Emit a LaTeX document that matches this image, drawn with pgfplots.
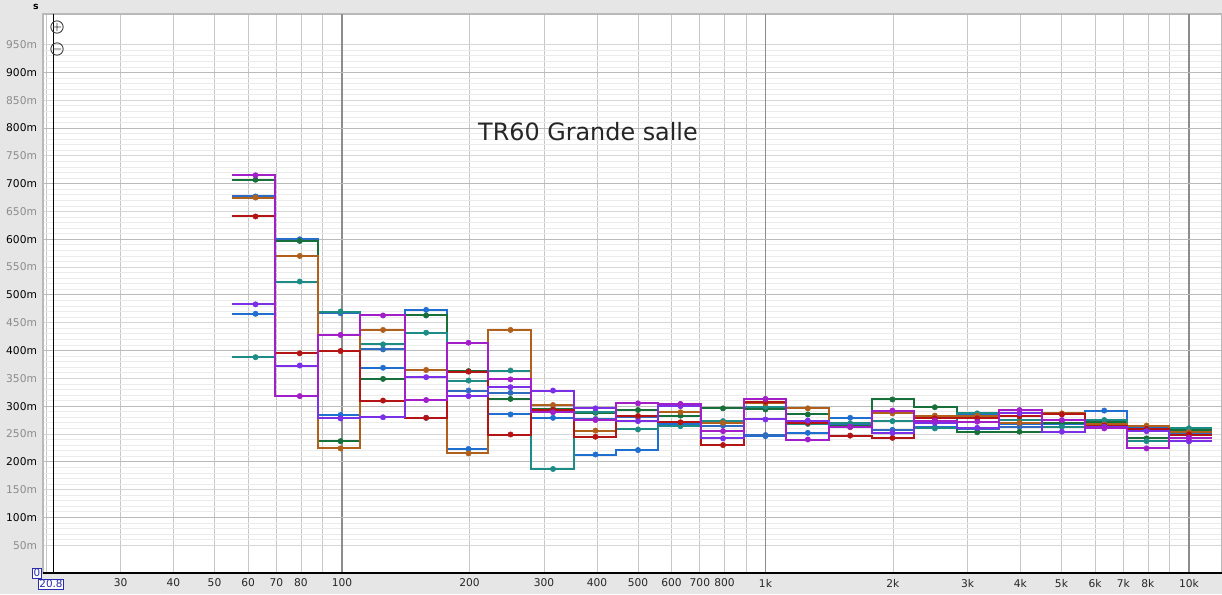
\documentclass[border=0pt]{standalone}
\usepackage{fontspec}
\setmainfont{DejaVu Sans}
\usepackage{pgfplots}
\pgfplotsset{compat=1.18}
\usepackage{pgfplotstable}

\definecolor{bgc}{HTML}{E6E6E6}
\definecolor{labgray}{HTML}{8C8C8C}
\definecolor{cblue}{HTML}{1F6FD0}
\definecolor{cgreen}{HTML}{17703A}
\definecolor{cteal}{HTML}{1D8C86}
\definecolor{cbrown}{HTML}{B0601A}
\definecolor{cred}{HTML}{B41414}
\definecolor{cmag}{HTML}{A21EC8}
\definecolor{cviol}{HTML}{7B2FE6}
\definecolor{cblue2}{HTML}{2F6CC0}
\definecolor{boxblue}{HTML}{2B2BB0}

% lo = lower band edge, fc = band centre, values in ms
\pgfplotstableread{
lo     fc     v1  v2  v3  v4  v5  v6  v7  v8
55.0   62.5   466 707 388 675 641 715 483 677
69.5   79.5   600 597 524 570 395 318 373 598
87.8   99.2   284 237 470 224 399 428 278 467
110.3  125    369 349 411 437 310 463 280 402
140.9  158    473 463 432 365 279 311 352 279
177.0  199    223 363 346 215 362 414 318 328
221.1  250    285 313 364 437 249 348 334 324
279.5  315    279 295 187 302 293 289 328 290
353.0  397    213 288 290 256 245 275 296 277
443.6  500    221 293 258 282 282 305 273 280
557.5  630    268 283 264 289 271 304 300 302
704.3  794    272 296 273 270 230 255 242 265
889.8  1000   246 294 299 305 308 313 276 248
1118   1259   252 285 268 296 270 240 274 272
1412   1585   279 265 269 262 247 263 263 266
1784   1995   257 312 273 287 243 292 252 257
2242   2512   262 298 260 283 278 274 270 274
2833   3162   286 253 287 283 278 272 261 258
3559   3981   267 254 275 270 282 293 287 263
4498   5012   267 270 263 287 285 275 254 270
5681   6310   292 272 275 267 265 260 263 268
7138   7943   262 242 237 265 259 224 255 258
8970   10000  255 257 260 253 249 243 237 250
11330  10000  255 257 260 253 249 243 237 250
}\rt

\newcommand\series[2]{%
  \addplot[#1, line width=1.5pt, const plot mark left, mark=none] table[x=lo,y=#2]{\rt};
  \addplot[#1, only marks, mark=*, mark size=2pt] table[x=fc,y=#2]{\rt};
}

\begin{document}
\begin{tikzpicture}
\fill[bgc] (0pt,0pt) rectangle (916.5pt,445.5pt);
\useasboundingbox (0pt,0pt) rectangle (916.5pt,445.5pt);
\begin{axis}[
  at={(32.25pt,15.75pt)}, anchor=south west,
  scale only axis, width=884.25pt, height=419.25pt,
  xmode=log, xmin=19.68, xmax=11970, ymin=0, ymax=1005,
  clip=false,
  axis background/.style={fill=white},
  axis line style={draw=gray!55, line width=0.8pt},
  major tick length=0pt, minor tick length=0pt,
  tick style={draw=none},
  xtick={20,30,40,50,60,70,80,90,100,200,300,400,500,600,700,800,900,1000,2000,3000,4000,5000,6000,7000,8000,9000,10000},
  xticklabels={{},30,40,50,60,70,80,{},100,200,300,400,500,600,700,800,{},1k,2k,3k,4k,5k,6k,7k,8k,{},10k},
  ytick={50,100,...,950},
  yticklabels={{\color{labgray}50m},100m,{\color{labgray}150m},200m,{\color{labgray}250m},300m,{\color{labgray}350m},400m,{\color{labgray}450m},500m,{\color{labgray}550m},600m,{\color{labgray}650m},700m,{\color{labgray}750m},800m,{\color{labgray}850m},900m,{\color{labgray}950m}},
  minor y tick num=4,
  xmajorgrids, ymajorgrids, yminorgrids,
  major x grid style={draw=black!22, line width=0.6pt},
  major y grid style={draw=black!16, line width=0.6pt},
  minor y grid style={draw=black!8, line width=0.5pt},
  extra x ticks={100,1000,10000}, extra x tick labels={},
  extra x tick style={major x grid style={draw=black!45, line width=0.9pt}},
  extra y ticks={100,200,...,900}, extra y tick labels={},
  extra y tick style={major y grid style={draw=black!27, line width=0.7pt}},
  xticklabel style={font=\fontsize{8}{9}\selectfont, text=black!85, yshift=-1pt},
  yticklabel style={font=\fontsize{8}{9}\selectfont, text=black, xshift=-1pt},
]
\draw[black, line width=1pt] (axis cs:20.8,0) -- (axis cs:20.8,1005);
\draw[black, line width=1pt] (rel axis cs:0,0) -- (rel axis cs:1,0);

\series{cblue}{v1}
\series{cblue2}{v8}
\series{cgreen}{v2}
\series{cteal}{v3}
\series{cbrown}{v4}
\series{cred}{v5}
\series{cviol}{v7}
\series{cmag}{v6}

\node[font=\fontsize{17.9}{20}\selectfont, text=black!85] at (axis cs:381,793) {TR60 Grande salle};
\end{axis}
\node[font=\fontsize{7}{8}\selectfont\bfseries] at (27pt,440.5pt) {s};
\draw[black!75, line width=0.7pt] (42.75pt,425.25pt) circle (4.6pt)
  (39.6pt,425.25pt) -- (45.9pt,425.25pt) (42.75pt,422.1pt) -- (42.75pt,428.4pt);
\draw[black!75, line width=0.7pt] (42.75pt,408.75pt) circle (4.6pt)
  (39.6pt,408.75pt) -- (45.9pt,408.75pt);
\node[draw=boxblue, fill=white, text=boxblue, inner sep=0.8pt, font=\fontsize{7.8}{9}\selectfont] at (27.75pt,15.6pt) {0};
\node[draw=boxblue, fill=white, text=boxblue, inner sep=0.8pt, font=\fontsize{7.8}{9}\selectfont] at (38.25pt,7.4pt) {20.8};
\end{tikzpicture}
\end{document}
